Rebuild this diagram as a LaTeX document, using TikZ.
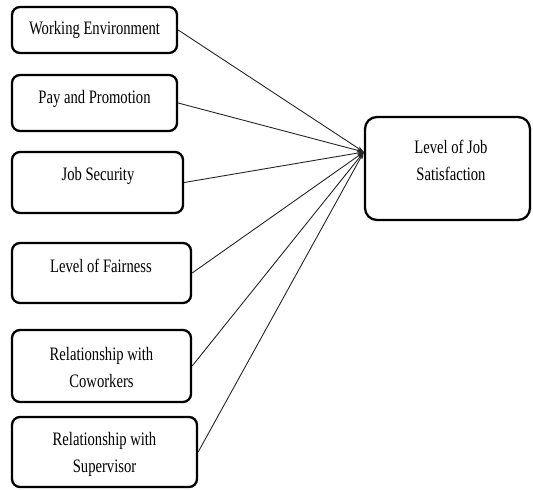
\documentclass[tikz,border=0pt]{standalone}
\usepackage{fontspec}
\setmainfont{Liberation Serif}[FakeStretch=0.77]
\usetikzlibrary{arrows.meta}
\begin{document}
\begin{tikzpicture}[x=1pt,y=-1pt,
  box/.style={draw=black, line width=2.3pt, rounded corners=8pt, fill=white, inner sep=0pt},
  lbl/.style={font=\fontsize{19}{27}\selectfont, anchor=base, align=center, inner sep=0pt, text=black},
  conn/.style={draw=black!85, line width=0.9pt, -{Stealth[length=7pt,width=4.5pt]}}]
\useasboundingbox (0,0) rectangle (533,490);
% boxes
\node[box, minimum width=165pt, minimum height=46pt] (b1) at (94.5,30) {};
\node[box, minimum width=165pt, minimum height=56pt] (b2) at (94.5,103) {};
\node[box, minimum width=171pt, minimum height=61pt] (b3) at (97.5,182.5) {};
\node[box, minimum width=179pt, minimum height=60pt] (b4) at (101.5,273) {};
\node[box, minimum width=179pt, minimum height=72pt] (b5) at (101.5,366) {};
\node[box, minimum width=185pt, minimum height=70pt] (b6) at (104.5,452) {};
\node[box, minimum width=165pt, minimum height=103pt, rounded corners=12pt] (t) at (447.5,168.5) {};
% texts (base anchor = baseline of the last line)
\node[lbl] (t1) at (94.5,34) {Working Environment};
\node[lbl] (t2) at (94.5,103) {Pay and Promotion};
\node[lbl] (t3) at (98,180) {Job Security};
\node[lbl] (t4) at (101,272) {Level of Fairness};
\node[lbl] (t5) at (101.5,387) {Relationship with\\Coworkers};
\node[lbl] (t6) at (104.5,472) {Relationship with\\Supervisor};
\node[lbl] (tt) at (451,180) {Level of Job\\Satisfaction};
% connectors
\coordinate (hub) at ([yshift=16.5pt]t.west);
\foreach \b in {b1,b2,b3,b4,b5,b6}
  \draw[conn] (\b.east) -- (hub);
\end{tikzpicture}
\end{document}
